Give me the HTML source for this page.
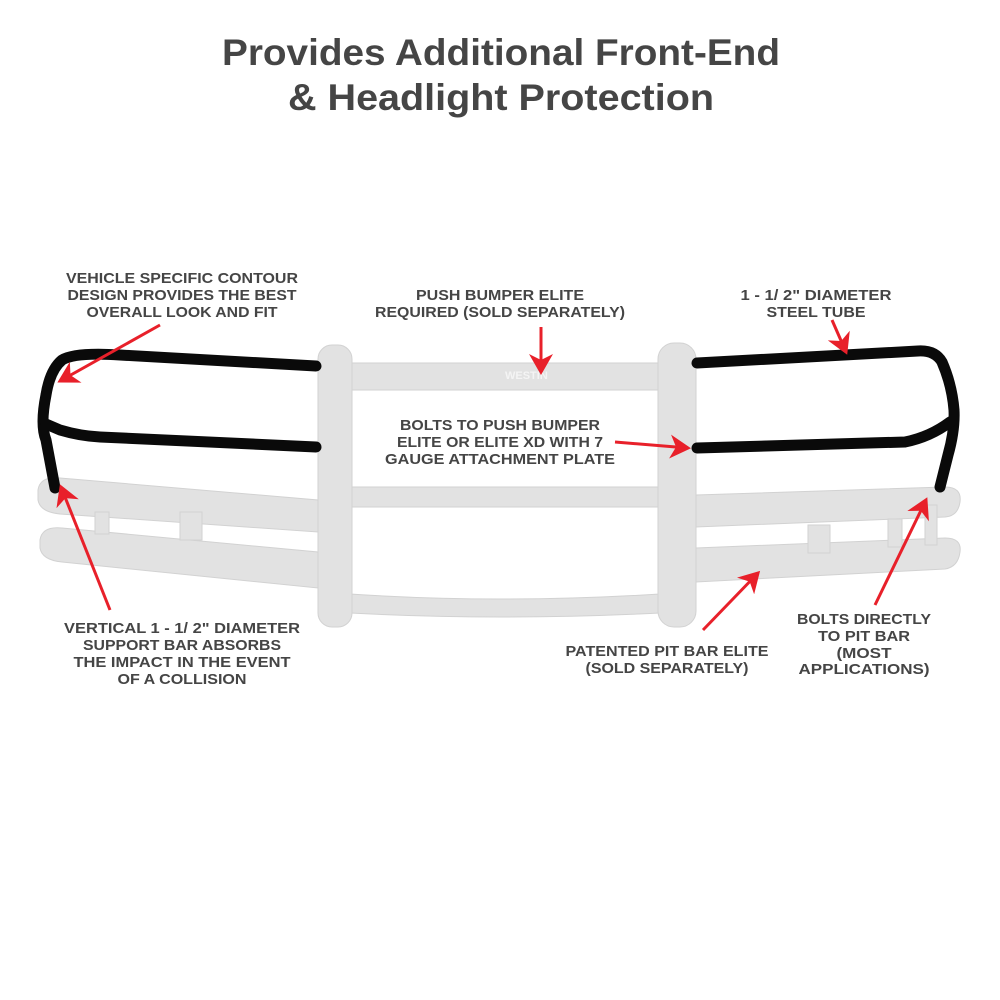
<!DOCTYPE html>
<html><head><meta charset="utf-8"><style>body{margin:0;background:#fff}svg{display:block}</style></head><body>
<svg width="1000" height="1000" viewBox="0 0 1000 1000" xmlns="http://www.w3.org/2000/svg">
<defs>
<marker id="ah" markerWidth="8" markerHeight="8" refX="6" refY="4" orient="auto" markerUnits="strokeWidth"><path d="M0,0 L7,4 L0,8 L2,4 z" fill="#e8202a"/></marker>
</defs>
<g font-family="'Liberation Sans',sans-serif" font-weight="bold" fill="#454545" text-anchor="middle">
<text x="501" y="65" font-size="37" textLength="558" lengthAdjust="spacingAndGlyphs">Provides Additional Front-End</text>
<text x="501" y="110" font-size="37" textLength="426" lengthAdjust="spacingAndGlyphs">&amp; Headlight Protection</text>
</g>
<g fill="#e2e2e2" stroke="#d2d2d2" stroke-width="1">
<path d="M38,490 Q40,476 60,478 L318,500 L318,532 L60,514 Q40,512 38,500 z"/>
<path d="M40,540 Q42,526 62,528 L318,552 L318,588 L62,562 Q42,560 40,548 z"/>
<rect x="95" y="512" width="14" height="22"/><rect x="180" y="512" width="22" height="28"/>
<rect x="350" y="363" width="310" height="27"/>
<rect x="350" y="487" width="310" height="20"/>
<path d="M350,594 Q500,604 660,594 L660,613 Q500,621 350,613 z"/>
<path d="M696,495 L945,487 Q962,487 960,502 Q958,516 945,517 L696,527 z"/>
<path d="M696,548 L945,538 Q962,538 960,552 Q958,567 945,569 L696,582 z"/>
<rect x="808" y="525" width="22" height="28"/><rect x="888" y="519" width="14" height="28"/><rect x="925" y="505" width="12" height="40"/>
<rect x="318" y="345" width="34" height="282" rx="14"/>
<rect x="658" y="343" width="38" height="284" rx="16"/>
</g>
<text x="505" y="379" font-family="'Liberation Sans',sans-serif" font-weight="bold" font-size="11" fill="#f4f4f4">WESTIN</text>
<g fill="none" stroke="#0a0a0a" stroke-width="11" stroke-linecap="round" stroke-linejoin="round">
<path d="M316,366 L120,355 Q75,352 62,360 Q50,370 46,395 Q40,425 46,440 L55,488"/>
<path d="M316,447 L100,437 Q80,436 60,430 L46,424"/>
<path d="M697,363 L918,351 Q935,350 942,362 Q952,385 954,410 Q955,430 948,455 L940,487"/>
<path d="M697,448 L905,442 Q930,437 950,422"/>
</g>
<g font-family="'Liberation Sans',sans-serif" font-weight="bold" font-size="15" fill="#454545" text-anchor="middle">
<text x="182" y="283" textLength="232" lengthAdjust="spacingAndGlyphs">VEHICLE SPECIFIC CONTOUR</text>
<text x="182" y="300" textLength="229" lengthAdjust="spacingAndGlyphs">DESIGN PROVIDES THE BEST</text>
<text x="182" y="317" textLength="191" lengthAdjust="spacingAndGlyphs">OVERALL LOOK AND FIT</text>
<text x="500" y="300" textLength="168" lengthAdjust="spacingAndGlyphs">PUSH BUMPER ELITE</text>
<text x="500" y="317" textLength="250" lengthAdjust="spacingAndGlyphs">REQUIRED (SOLD SEPARATELY)</text>
<text x="816" y="300" textLength="151" lengthAdjust="spacingAndGlyphs">1 - 1/ 2" DIAMETER</text>
<text x="816" y="317" textLength="99" lengthAdjust="spacingAndGlyphs">STEEL TUBE</text>
<text x="500" y="430" textLength="200" lengthAdjust="spacingAndGlyphs">BOLTS TO PUSH BUMPER</text>
<text x="500" y="447" textLength="206" lengthAdjust="spacingAndGlyphs">ELITE OR ELITE XD WITH 7</text>
<text x="500" y="464" textLength="230" lengthAdjust="spacingAndGlyphs">GAUGE ATTACHMENT PLATE</text>
<text x="182" y="633" textLength="236" lengthAdjust="spacingAndGlyphs">VERTICAL 1 - 1/ 2" DIAMETER</text>
<text x="182" y="650" textLength="198" lengthAdjust="spacingAndGlyphs">SUPPORT BAR ABSORBS</text>
<text x="182" y="667" textLength="217" lengthAdjust="spacingAndGlyphs">THE IMPACT IN THE EVENT</text>
<text x="182" y="684" textLength="129" lengthAdjust="spacingAndGlyphs">OF A COLLISION</text>
<text x="667" y="656" textLength="203" lengthAdjust="spacingAndGlyphs">PATENTED PIT BAR ELITE</text>
<text x="667" y="673" textLength="163" lengthAdjust="spacingAndGlyphs">(SOLD SEPARATELY)</text>
<text x="864" y="624" textLength="134" lengthAdjust="spacingAndGlyphs">BOLTS DIRECTLY</text>
<text x="864" y="641" textLength="92" lengthAdjust="spacingAndGlyphs">TO PIT BAR</text>
<text x="864" y="658" textLength="55" lengthAdjust="spacingAndGlyphs">(MOST</text>
<text x="864" y="674" textLength="131" lengthAdjust="spacingAndGlyphs">APPLICATIONS)</text>
</g>
<g stroke="#e8202a" stroke-width="3" fill="none" marker-end="url(#ah)">
<line x1="160" y1="325" x2="60" y2="381"/>
<line x1="541" y1="327" x2="541" y2="372"/>
<line x1="832" y1="320" x2="846" y2="352"/>
<line x1="615" y1="442" x2="688" y2="448"/>
<line x1="110" y1="610" x2="61" y2="487"/>
<line x1="703" y1="630" x2="758" y2="573"/>
<line x1="875" y1="605" x2="926" y2="500"/>
</g>
</svg>
</body></html>
